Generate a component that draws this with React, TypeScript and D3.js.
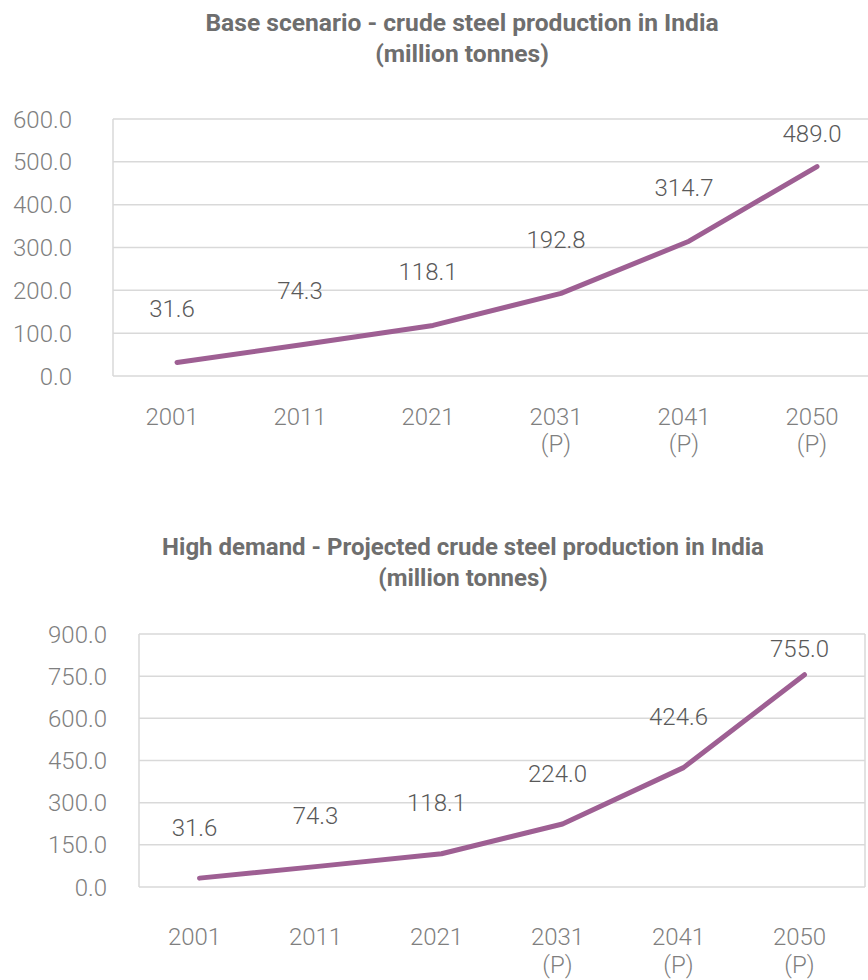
import React from "react";
import * as d3 from "d3";

const years = ["2001", "2011", "2021", "2031", "2041", "2050"];
const projected = [false, false, false, true, true, true];
const baseValues = [31.6, 74.3, 118.1, 192.8, 314.7, 489.0];
const highValues = [31.6, 74.3, 118.1, 224.0, 424.6, 755.0];
const baseTicks = [0, 100, 200, 300, 400, 500, 600];
const highTicks = [0, 150, 300, 450, 600, 750, 900];
const baseTitle = ["Base scenario - crude steel production in India", "(million tonnes)"];
const highTitle = ["High demand - Projected crude steel production in India", "(million tonnes)"];

const FONT = "Roboto, 'Noto Sans', sans-serif";
const LINE = "#9e5f93";
const GRID = "#d9d9d9";

type ChartProps = {
  values: number[];
  ticks: number[];
  title: string[];
  titleX: number;
  titleY: number;
  titleSize: number;
  left: number;
  right: number;
  top: number;
  bottom: number;
  tickRight: number;
  yearY: number;
  pY: number;
  labelOffset: number;
  border: boolean;
};

function Chart(p: ChartProps) {
  const x = d3.scaleBand<string>().domain(years).range([p.left, p.right]);
  const y = d3.scaleLinear().domain([p.ticks[0], p.ticks[p.ticks.length - 1]]).range([p.bottom, p.top]);
  const cx = (d: string) => (x(d) as number) + x.bandwidth() / 2;
  const line = d3
    .line<number>()
    .x((_, i) => cx(years[i]))
    .y((v) => y(v));
  return (
    <g>
      {p.title.map((t, i) => (
        <text key={i} x={p.titleX} y={p.titleY + i * 31} textAnchor="middle" fontFamily={FONT} fontWeight={700} fontSize={p.titleSize} fill="#6e6e6e">
          {t}
        </text>
      ))}
      {p.ticks.map((t) => (
        <line key={t} x1={p.left} x2={p.right} y1={y(t)} y2={y(t)} stroke={GRID} strokeWidth={1.5} />
      ))}
      <line x1={p.left} x2={p.left} y1={p.top} y2={p.bottom} stroke={GRID} strokeWidth={1.5} />
      {p.border && <line x1={p.right} x2={p.right} y1={p.top} y2={p.bottom} stroke={GRID} strokeWidth={1.5} />}
      {p.ticks.map((t) => (
        <text key={"t" + t} x={p.tickRight} y={y(t) + 8.5} textAnchor="end" fontFamily={FONT} fontWeight={300} fontSize={24} fill="#7f7f7f">
          {t.toFixed(1)}
        </text>
      ))}
      <path d={line(p.values) || ""} fill="none" stroke={LINE} strokeWidth={5} strokeLinecap="round" strokeLinejoin="round" />
      {p.values.map((v, i) => (
        <text
          key={"v" + i}
          x={cx(years[i]) - 5}
          y={Math.max(y(v) - p.labelOffset, p.top + 14) + 8.5}
          textAnchor="middle"
          fontFamily={FONT}
          fontWeight={300}
          fontSize={24}
          fill="#595959"
        >
          {v.toFixed(1)}
        </text>
      ))}
      {years.map((yr, i) => (
        <g key={"x" + yr}>
          <text x={cx(yr) - 5} y={p.yearY} textAnchor="middle" fontFamily={FONT} fontWeight={300} fontSize={24} fill="#7f7f7f">
            {yr}
          </text>
          {projected[i] && (
            <text x={cx(yr) - 5} y={p.pY} textAnchor="middle" fontFamily={FONT} fontWeight={300} fontSize={24} fill="#7f7f7f">
              (P)
            </text>
          )}
        </g>
      ))}
    </g>
  );
}

export default function App() {
  return (
    <svg width={868} height={980} style={{ position: "absolute", left: 0, top: 0, background: "#fff" }}>
      <rect width={868} height={980} fill="#fff" />
      <Chart
        values={baseValues}
        ticks={baseTicks}
        title={baseTitle}
        titleX={462}
        titleY={31}
        titleSize={24.6}
        left={113}
        right={881}
        top={119}
        bottom={376}
        tickRight={72}
        yearY={425}
        pY={452}
        labelOffset={54}
        border={false}
      />
      <Chart
        values={highValues}
        ticks={highTicks}
        title={highTitle}
        titleX={463}
        titleY={555}
        titleSize={24}
        left={139}
        right={865}
        top={634}
        bottom={887}
        tickRight={107}
        yearY={945}
        pY={973}
        labelOffset={51}
        border={true}
      />
    </svg>
  );
}
